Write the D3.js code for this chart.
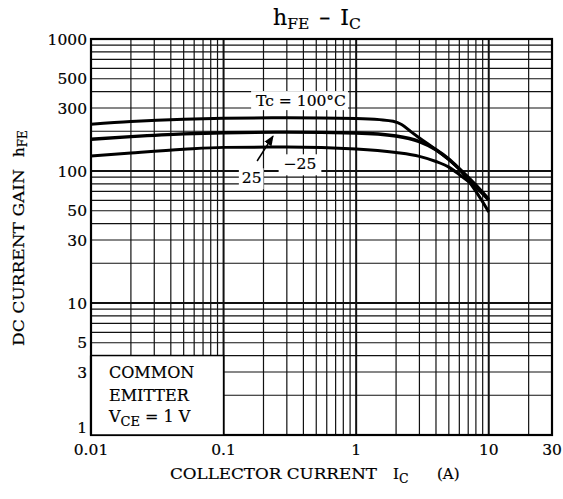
<!DOCTYPE html>
<html lang="en">
<head>
<meta charset="UTF-8">
<title>hFE - IC</title>
<script src="https://d3js.org/d3.v7.min.js"></script>
<style>
    body { margin: 0; background: #fff; }
    svg { display: block; }
    text { font-family: "DejaVu Serif", serif; fill: #000; stroke: #000; stroke-width: 0.2; }
</style>
</head>
<body>
<svg width="563" height="499"></svg>
<script>
    // collector current (A) and DC current gain
    const icHot = [0.01, 0.02, 0.05, 0.1, 0.3, 1, 1.5, 1.9, 2.2, 2.6, 3, 4, 5, 6, 8, 10];
    const hfeHot = [226, 237, 247, 251, 253, 250, 245, 238, 225, 198, 178, 145, 122, 103, 70, 49];
    const icRoom = [0.01, 0.02, 0.05, 0.1, 0.3, 1, 2, 3, 4, 5, 6, 8, 10];
    const hfeRoom = [174, 182, 191, 195, 197, 194, 184, 167, 145, 123, 104, 78, 61];
    const icCold = [0.01, 0.02, 0.05, 0.1, 0.3, 1, 2, 3, 4, 5, 6, 8, 10];
    const hfeCold = [130, 137, 146, 151, 152, 147, 138, 129, 118, 107, 94, 75, 60];

    const xTicks = [0.01, 0.1, 1, 10, 30];
    const xTickLabels = ["0.01", "0.1", "1", "10", "30"];
    const yTicks = [1, 3, 5, 10, 30, 50, 100, 300, 500, 1000];
    const yTickLabels = ["1", "3", "5", "10", "30", "50", "100", "300", "500", "1000"];

    const svg = d3.select("svg");
    const x = d3.scaleLog().domain([0.01, 30]).range([91, 552]);
    const y = d3.scaleLog().domain([1, 1000]).range([435, 39]);

    // grid values: 1..9 of every decade
    const xGrid = [], yGrid = [];
    [0.01, 0.1, 1, 10].forEach(d => {
        for (let k = 1; k <= 9; k++) if (k * d <= 30) xGrid.push(+(k * d).toPrecision(3));
    });
    [1, 10, 100].forEach(d => {
        for (let k = 1; k <= 9; k++) yGrid.push(k * d);
    });
    const isDecade = v => Math.abs(Math.log10(v) - Math.round(Math.log10(v))) < 1e-6;

    const grid = svg.append("g");
    grid.selectAll("line.vx").data(xGrid).enter().append("line")
        .attr("x1", d => x(d)).attr("x2", d => x(d))
        .attr("y1", y(1)).attr("y2", y(1000))
        .attr("stroke", "#111")
        .attr("stroke-width", d => isDecade(d) ? 2 : 1.2);
    grid.selectAll("line.hy").data(yGrid).enter().append("line")
        .attr("y1", d => y(d)).attr("y2", d => y(d))
        .attr("x1", x(0.01)).attr("x2", x(30))
        .attr("stroke", "#111")
        .attr("stroke-width", d => isDecade(d) ? 2 : 1.2);

    // frame
    svg.append("rect")
        .attr("x", x(0.01)).attr("y", y(1000))
        .attr("width", x(30) - x(0.01)).attr("height", y(1) - y(1000))
        .attr("fill", "none").attr("stroke", "#000").attr("stroke-width", 2.2);

    // curves
    const line = d3.line().x(d => x(d[0])).y(d => y(d[1])).curve(d3.curveMonotoneX);
    const curves = [
        { ic: icHot, hfe: hfeHot, w: 3 },
        { ic: icRoom, hfe: hfeRoom, w: 3.4 },
        { ic: icCold, hfe: hfeCold, w: 3 }
    ];
    svg.selectAll("path.curve").data(curves).enter().append("path")
        .attr("d", c => line(c.ic.map((v, i) => [v, c.hfe[i]])))
        .attr("fill", "none").attr("stroke", "#000")
        .attr("stroke-width", c => c.w).attr("stroke-linejoin", "round");

    // labels with white backing
    function boxedLabel(px, py, txt, padL, padR, padT, padB) {
        const g = svg.append("g");
        const t = g.append("text").attr("x", px).attr("y", py)
            .attr("text-anchor", "middle").attr("font-size", 15.5).text(txt);
        const b = t.node().getBBox();
        g.insert("rect", "text")
            .attr("x", b.x - padL).attr("y", b.y - padT)
            .attr("width", b.width + padL + padR).attr("height", b.height + padT + padB)
            .attr("fill", "#fff");
    }
    boxedLabel(x(0.384), y(310), "Tc = 100°C", 5, 2, 1, 0);
    boxedLabel(x(0.377), y(103), "\u221225", 5, 5, 1, 2);
    boxedLabel(x(0.163), y(80.7), "25", 3, 2, 1, 2);

    // arrow from "25" to its curve
    svg.append("defs").append("marker")
        .attr("id", "ah").attr("viewBox", "0 0 10 10")
        .attr("refX", 9).attr("refY", 5)
        .attr("markerWidth", 7).attr("markerHeight", 7)
        .attr("orient", "auto")
        .append("path").attr("d", "M0,1 L10,5 L0,9 Z").attr("fill", "#000");
    svg.append("line")
        .attr("x1", x(0.179)).attr("y1", y(119))
        .attr("x2", x(0.236)).attr("y2", y(184))
        .attr("stroke", "#000").attr("stroke-width", 1.5)
        .attr("marker-end", "url(#ah)");

    // condition box
    const bx0 = x(0.01), bx1 = x(0.1), by0 = y(4), by1 = y(1);
    svg.append("rect")
        .attr("x", bx0).attr("y", by0).attr("width", bx1 - bx0).attr("height", by1 - by0)
        .attr("fill", "#fff").attr("stroke", "#000").attr("stroke-width", 1.5);
    svg.append("line").attr("x1", bx0).attr("x2", bx0).attr("y1", by0).attr("y2", by1)
        .attr("stroke", "#000").attr("stroke-width", 2.2);
    const cond = svg.append("g").attr("font-size", 16);
    cond.append("text").attr("x", bx0 + 18).attr("y", by0 + 22).text("COMMON");
    cond.append("text").attr("x", bx0 + 18).attr("y", by0 + 45.5).text("EMITTER");
    const vce = cond.append("text").attr("x", bx0 + 18).attr("y", by0 + 66);
    vce.append("tspan").text("V");
    vce.append("tspan").attr("font-size", 13).attr("dy", 4).text("CE");
    vce.append("tspan").attr("dy", -4).text(" = 1 V");

    // tick labels
    svg.selectAll("text.xt").data(xTicks).enter().append("text")
        .attr("x", d => x(d)).attr("y", 455)
        .attr("text-anchor", "middle").attr("font-size", 15.5)
        .text((d, i) => xTickLabels[i]);
    svg.selectAll("text.yt").data(yTicks).enter().append("text")
        .attr("x", 87).attr("y", d => d === 1 ? y(d) - 2 : y(d) + 5.5)
        .attr("text-anchor", "end").attr("font-size", 15.5)
        .text((d, i) => yTickLabels[i]);

    // title
    const title = svg.append("text").attr("x", 317).attr("y", 25)
        .attr("text-anchor", "middle").attr("font-size", 22);
    title.append("tspan").text("h");
    title.append("tspan").attr("font-size", 15.5).attr("dy", 4).text("FE");
    title.append("tspan").attr("dy", -4).attr("dx", 10).text("\u2013");
    title.append("tspan").attr("dx", 10).text("I");
    title.append("tspan").attr("font-size", 15.5).attr("dy", 4).text("C");

    // axis titles
    const xl = svg.append("text").attr("x", 170).attr("y", 479).attr("font-size", 15);
    xl.append("tspan").attr("textLength", 207).attr("lengthAdjust", "spacingAndGlyphs")
        .text("COLLECTOR CURRENT");
    xl.append("tspan").attr("x", 393).text("I");
    xl.append("tspan").attr("font-size", 12.5).attr("dy", 4).text("C");
    xl.append("tspan").attr("dy", -4).attr("x", 437).text("(A)");

    const yl = svg.append("text").attr("transform", "translate(24,346) rotate(-90)")
        .attr("font-size", 15);
    yl.append("tspan").attr("textLength", 177).attr("lengthAdjust", "spacingAndGlyphs")
        .text("DC CURRENT GAIN");
    yl.append("tspan").attr("x", 189).text("h");
    yl.append("tspan").attr("font-size", 12).attr("dy", 3).text("FE");
</script>
</body>
</html>
